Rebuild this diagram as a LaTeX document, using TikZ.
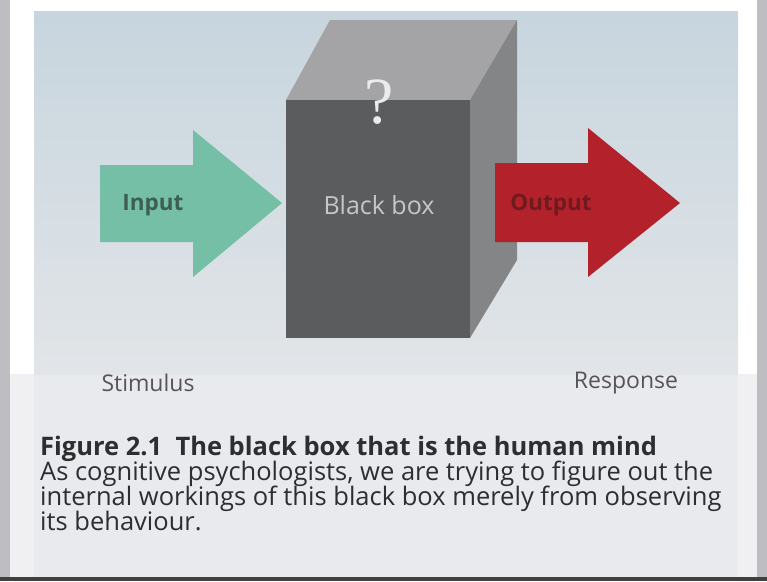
\documentclass[tikz,border=0pt]{standalone}
\usepackage{fontspec}
\setmainfont{Open Sans}
\newfontfamily\qfont{Liberation Serif}
\definecolor{panelTop}{HTML}{C7D5DE}
\definecolor{panelBot}{HTML}{E2E5E8}
\definecolor{pageBg}{HTML}{E9EAED}
\definecolor{sideGray}{HTML}{BDBDC2}
\definecolor{frontFace}{HTML}{5B5C5E}
\definecolor{topFace}{HTML}{A4A4A6}
\definecolor{sideFace}{HTML}{848587}
\definecolor{inGreen}{HTML}{74BFA5}
\definecolor{inText}{HTML}{3E5E55}
\definecolor{outRed}{HTML}{B3222A}
\definecolor{outText}{HTML}{6E1A1E}
\definecolor{lblGray}{HTML}{555557}
\definecolor{capText}{HTML}{2E2E30}
\tikzset{
  lbl/.style={font=\fontsize{23}{26}\selectfont, text=lblGray, inner sep=0pt},
  arrowlbl/.style={font=\fontsize{22.5}{26}\selectfont\bfseries, inner sep=0pt},
  capline/.style={font=\fontsize{25.5}{28}\selectfont, text=capText, anchor=base west, inner sep=0pt}
}
\begin{document}
\begin{tikzpicture}[x=1pt,y=-1pt]
\useasboundingbox (0,0) rectangle (767,581);
% page
\fill[white] (0,0) rectangle (767,581);
\fill[sideGray] (0,0) rectangle (10,581);
\fill[sideGray] (757,0) rectangle (767,581);
\fill[pageBg] (34,374) rectangle (738,577);
\fill[top color=panelTop,bottom color=panelBot] (34,11) rectangle (738,374);
\fill[pageBg!70!white] (10,374) rectangle (34,577);
\fill[pageBg!70!white] (738,374) rectangle (757,577);
\fill[black!75] (0,577) rectangle (767,581);
% input arrow
\fill[inGreen] (100,165) -- (193,165) -- (193,130) -- (282,203) -- (193,277) -- (193,242) -- (100,242) -- cycle;
% black box
\fill[topFace] (286,100) -- (330,20) -- (517,20) -- (470,100) -- cycle;
\fill[sideFace] (470,100) -- (517,20) -- (517,260) -- (470,338) -- cycle;
\fill[frontFace] (286,100) rectangle (470,338);
% output arrow
\fill[outRed] (495,163) -- (588,163) -- (588,128) -- (680,203) -- (588,277) -- (588,242) -- (495,242) -- cycle;
% texts
\node[arrowlbl, text=inText] (input) at (153,205) {Input};
\node[arrowlbl, text=outText] (output) at (551,205) {Output};
\node[font=\fontsize{25}{28}\selectfont, text=black!22, inner sep=0pt] (bb) at (379,205) {Black box};
\node[font=\qfont\fontsize{66}{70}\selectfont, text=white!92!black, inner sep=0pt] (q) at (379,102) {?};
\node[lbl] (stim) at (148,383) {Stimulus};
\node[lbl] (resp) at (626,383) {Response};
\node[capline] (c1) at (40,455) {\bfseries Figure 2.1\ \ The black box that is the human mind};
\node[capline] (c2) at (40,480) {As cognitive psychologists, we are trying to figure out the};
\node[capline] (c3) at (40,505) {internal workings of this black box merely from observing};
\node[capline] (c4) at (40,530) {its behaviour.};
\end{tikzpicture}
\end{document}
